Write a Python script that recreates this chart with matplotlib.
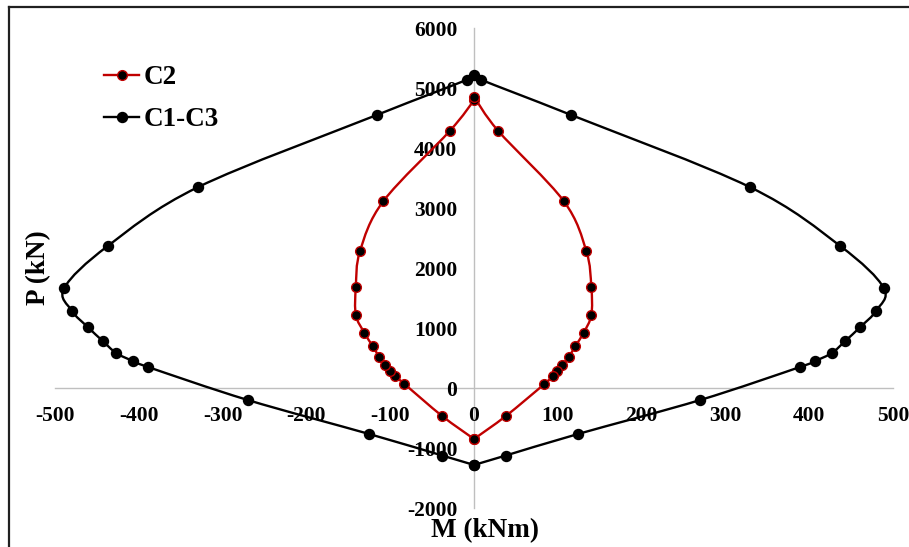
import matplotlib
matplotlib.use("Agg")
import matplotlib.pyplot as plt
from matplotlib.path import Path
from matplotlib.patches import PathPatch
from matplotlib.lines import Line2D
import numpy as np

# ---------------- data ----------------
series_names = ["C2", "C1-C3"]

c2_M = [0, -38, -83, -94, -100, -106, -113, -121, -131, -141, -141, -136, -108, -29, 0,
        0, 29, 107, 134, 140, 140, 131, 121, 113, 105, 99, 94, 84, 38, 0]
c2_P = [-850, -467, 67, 200, 283, 383, 517, 700, 925, 1217, 1683, 2283, 3117, 4283, 4800,
        4850, 4283, 3117, 2283, 1683, 1217, 925, 700, 517, 383, 283, 200, 67, -467, -850]

c13_M = [0, -38, -125, -270, -389, -407, -427, -443, -461, -480, -489, -437, -329, -116, -8,
         0, 8, 116, 329, 437, 489, 480, 461, 443, 427, 407, 389, 270, 124, 38, 0]
c13_P = [-1283, -1125, -767, -200, 350, 450, 583, 783, 1017, 1290, 1667, 2367, 3350, 4550, 5140,
         5215, 5140, 4550, 3350, 2367, 1667, 1290, 1017, 783, 583, 450, 350, -200, -767, -1125, -1283]

x_ticks = [-500, -400, -300, -200, -100, 0, 100, 200, 300, 400, 500]
y_ticks = [-2000, -1000, 0, 1000, 2000, 3000, 4000, 5000, 6000]

x_label = "M (kNm)"
y_label = "P (kN)"

RED = "#C00000"
FONT = "Liberation Serif"

# ---------------- figure ----------------
fig = plt.figure(figsize=(9.09, 5.47), dpi=100)
W, H = 909, 547
ax = fig.add_axes([55 / W, 1 - 508 / H, 838 / W, 480 / H])
ax.set_xlim(-500, 500)
ax.set_ylim(-2000, 6000)


def smooth_path(xs, ys):
    """Excel-like smoothed line: Catmull-Rom segments expressed as cubic Bezier."""
    pts = np.column_stack([xs, ys]).astype(float)
    n = len(pts)
    verts = [pts[0]]
    codes = [Path.MOVETO]
    for i in range(n - 1):
        p0 = pts[i - 1] if i > 0 else pts[i]
        p1 = pts[i]
        p2 = pts[i + 1]
        p3 = pts[i + 2] if i + 2 < n else pts[i + 1]
        c1 = p1 + (p2 - p0) / 6.0
        c2 = p2 - (p3 - p1) / 6.0
        verts += [c1, c2, p2]
        codes += [Path.CURVE4] * 3
    return Path(verts, codes)


# C1-C3 (black)
ax.add_patch(PathPatch(smooth_path(c13_M, c13_P), facecolor="none",
                       edgecolor="black", lw=1.7, zorder=3))
ax.plot(c13_M, c13_P, linestyle="none", marker="o", ms=7.2,
        mfc="black", mec="black", zorder=4)

# C2 (red)
ax.add_patch(PathPatch(smooth_path(c2_M, c2_P), facecolor="none",
                       edgecolor=RED, lw=1.7, zorder=5))
ax.plot(c2_M, c2_P, linestyle="none", marker="o", ms=7.0,
        mfc="black", mec=RED, mew=1.0, zorder=6)

# axes through the origin
for s in ["top", "right"]:
    ax.spines[s].set_visible(False)
ax.spines["left"].set_position(("data", 0))
ax.spines["bottom"].set_position(("data", 0))
for s in ["left", "bottom"]:
    ax.spines[s].set_color("#BFBFBF")
    ax.spines[s].set_linewidth(1.0)
    ax.spines[s].set_zorder(1)

ax.set_xticks(x_ticks)
ax.set_yticks(y_ticks)
ax.set_xticklabels([str(v) for v in x_ticks])
ax.set_yticklabels([str(v) for v in y_ticks])
ax.tick_params(axis="both", length=0)
ax.tick_params(axis="x", pad=13)
ax.tick_params(axis="y", pad=12)
for lab in ax.get_xticklabels() + ax.get_yticklabels():
    lab.set_fontfamily(FONT)
    lab.set_fontweight("bold")
    lab.set_fontsize(15.5)
    lab.set_zorder(2)

# axis titles
fig.text(485 / W, 1 - 531 / H, x_label, ha="center", va="center",
         fontfamily=FONT, fontweight="bold", fontsize=19.5)
fig.text(39 / W, 1 - 268 / H, y_label, ha="center", va="center", rotation=90,
         fontfamily=FONT, fontweight="bold", fontsize=19.5)

# legend
handles = [
    Line2D([], [], color=RED, lw=1.7, marker="o", ms=7.0, mfc="black", mec=RED),
    Line2D([], [], color="black", lw=1.7, marker="o", ms=7.2, mfc="black", mec="black"),
]
leg = fig.legend(handles, series_names, loc="upper left",
                 bbox_to_anchor=(104 / W, 1 - 65 / H), bbox_transform=fig.transFigure,
                 frameon=False, handlelength=1.3, handletextpad=0.15,
                 labelspacing=0.64, borderpad=0, borderaxespad=0,
                 prop={"family": FONT, "weight": "bold", "size": 19.5})

# chart-area frame (top and left edges visible)
fig.add_artist(Line2D([9 / W, 1.0], [1 - 6.5 / H, 1 - 6.5 / H], color="#202020",
                      lw=1.6, transform=fig.transFigure))
fig.add_artist(Line2D([9 / W, 9 / W], [1 - 6.5 / H, 0.0], color="#202020",
                      lw=1.6, transform=fig.transFigure))

fig.savefig("out.png", dpi=100)
